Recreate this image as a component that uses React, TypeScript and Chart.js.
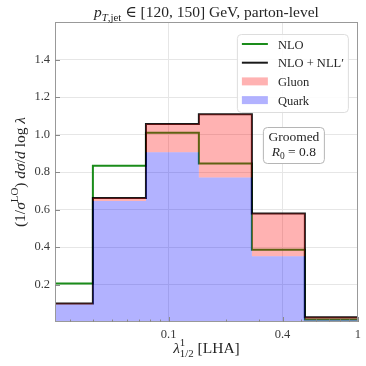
import React, { useEffect, useRef } from 'react';
import { Chart, registerables } from 'chart.js';

Chart.register(...registerables);

// ---- data ----
const binEdges = [0.0209, 0.0398, 0.0759, 0.1445, 0.2754, 0.5248, 1.0];
const nloValues = [0.205, 0.833, 1.01, 0.845, 0.386, 0.014];
const nllValues = [0.099, 0.661, 1.056, 1.108, 0.579, 0.025];
const quarkValues = [0.093, 0.645, 0.906, 0.771, 0.351, 0.012];
const gluonValues = [0.006, 0.016, 0.15, 0.337, 0.228, 0.013];
const xMajorTicks = [0.1, 0.4, 1];
const xMajorLabels = ['0.1', '0.4', '1'];
const xMinorTicks = [0.03, 0.04, 0.05, 0.06, 0.07, 0.08, 0.09, 0.2, 0.3, 0.5, 0.6, 0.7, 0.8, 0.9];
const yTicks = [0.2, 0.4, 0.6, 0.8, 1.0, 1.2, 1.4];
const xRange = [0.0251, 1];
const yRange = [0, 1.6];
const legendLabels = ['NLO', 'NLO + NLL′', 'Gluon', 'Quark'];
const annotationLines = ['Groomed', 'R', '0', ' = 0.8'];

// ---- styles ----
const GREEN = '#1a8c1a';
const BLACK = 'rgba(0,0,0,0.9)';
const PINK = 'rgba(255,0,0,0.3)';
const BLUE = 'rgba(0,0,255,0.3)';
const GRID = '#e6e6e6';
const FRAME = '#999999';
const TEXT = '#262626';
const TICKTEXT = '#3a3a3a';
const FAMILY = '"Liberation Serif", "DejaVu Serif", serif';

const stepPoints = (vals: number[]) => [
  ...vals.map((v, i) => ({ x: binEdges[i], y: v })),
  { x: binEdges[vals.length], y: vals[vals.length - 1] },
];

type Seg = { t?: string; it?: boolean; k?: number; dy?: number; sup?: string; sub?: string };
const font = (px: number, it?: boolean) => `${it ? 'italic ' : ''}${px}px ${FAMILY}`;

function segWidth(ctx: CanvasRenderingContext2D, s: Seg, base: number) {
  if (s.sup !== undefined || s.sub !== undefined) {
    ctx.font = font(base * 0.7);
    return Math.max(ctx.measureText(s.sup || '').width, ctx.measureText(s.sub || '').width);
  }
  ctx.font = font(base * (s.k || 1), s.it);
  return ctx.measureText(s.t || '').width;
}

function drawRich(ctx: CanvasRenderingContext2D, segs: Seg[], x: number, y: number, base: number, align = 'center') {
  const widths = segs.map((s) => segWidth(ctx, s, base));
  const total = widths.reduce((a, b) => a + b, 0);
  let cx = align === 'center' ? x - total / 2 : align === 'right' ? x - total : x;
  ctx.textAlign = 'left';
  ctx.textBaseline = 'alphabetic';
  segs.forEach((s, i) => {
    if (s.sup !== undefined || s.sub !== undefined) {
      ctx.font = font(base * 0.7);
      if (s.sup) ctx.fillText(s.sup, cx, y - base * 0.42);
      if (s.sub) ctx.fillText(s.sub, cx, y + base * 0.28);
    } else {
      ctx.font = font(base * (s.k || 1), s.it);
      ctx.fillText(s.t || '', cx, y + (s.dy || 0) * base);
    }
    cx += widths[i];
  });
}

function roundRect(ctx: CanvasRenderingContext2D, x: number, y: number, w: number, h: number, r: number) {
  ctx.beginPath();
  ctx.moveTo(x + r, y);
  ctx.lineTo(x + w - r, y);
  ctx.arcTo(x + w, y, x + w, y + r, r);
  ctx.lineTo(x + w, y + h - r);
  ctx.arcTo(x + w, y + h, x + w - r, y + h, r);
  ctx.lineTo(x + r, y + h);
  ctx.arcTo(x, y + h, x, y + h - r, r);
  ctx.lineTo(x, y + r);
  ctx.arcTo(x, y, x + r, y, r);
  ctx.closePath();
}

const decorPlugin = {
  id: 'decor',
  afterDatasetsDraw(chart: any) {
    const { ctx, chartArea: a, scales } = chart;
    ctx.save();
    // frame
    ctx.strokeStyle = FRAME;
    ctx.lineWidth = 1;
    ctx.strokeRect(Math.round(a.left) + 0.5, Math.round(a.top) + 0.5, Math.round(a.right - a.left) - 1, Math.round(a.bottom - a.top) - 1);
    // inward ticks
    ctx.strokeStyle = '#8a8a8a';
    ctx.beginPath();
    xMajorTicks.forEach((v) => {
      const px = Math.round(scales.x.getPixelForValue(v)) + 0.5;
      ctx.moveTo(px, a.bottom);
      ctx.lineTo(px, a.bottom - 5);
    });
    xMinorTicks.forEach((v) => {
      const px = Math.round(scales.x.getPixelForValue(v)) + 0.5;
      ctx.moveTo(px, a.bottom);
      ctx.lineTo(px, a.bottom - 2.5);
    });
    yTicks.forEach((v) => {
      const py = Math.round(scales.y.getPixelForValue(v)) + 0.5;
      ctx.moveTo(a.left, py);
      ctx.lineTo(a.left + 5, py);
    });
    ctx.stroke();
    ctx.restore();
  },
  afterDraw(chart: any) {
    const { ctx, chartArea: a } = chart;
    const cx = (a.left + a.right) / 2;
    ctx.save();
    ctx.fillStyle = TEXT;
    // title
    drawRich(ctx, [
      { t: 'p', it: true },
      { t: 'T', it: true, k: 0.7, dy: 0.25 },
      { t: ',jet', k: 0.7, dy: 0.25 },
      { t: ' ∈ [120, 150] GeV, parton-level' },
    ], cx, 17, 15.5);
    // x label
    drawRich(ctx, [
      { t: 'λ', it: true },
      { sup: '1', sub: '1/2' },
      { t: ' [LHA]' },
    ], cx, 353, 15.5);
    // y label
    ctx.save();
    ctx.translate(25, (a.top + a.bottom) / 2);
    ctx.rotate(-Math.PI / 2);
    drawRich(ctx, [
      { t: '(1/' },
      { t: 'σ', it: true },
      { sup: 'LO' },
      { t: ') ' },
      { t: 'd', it: true },
      { t: 'σ', it: true },
      { t: '/' },
      { t: 'd', it: true },
      { t: ' log ' },
      { t: 'λ', it: true },
    ], 0, 0, 15.5);
    ctx.restore();

    // legend
    const lx = a.right - 121;
    const ly = a.top + 12;
    roundRect(ctx, lx + 0.5, ly + 0.5, 111, 78, 4);
    ctx.fillStyle = 'rgba(255,255,255,0.85)';
    ctx.fill();
    ctx.strokeStyle = '#dddddd';
    ctx.lineWidth = 1;
    ctx.stroke();
    const styles = [
      { kind: 'line', color: GREEN },
      { kind: 'line', color: BLACK },
      { kind: 'rect', color: PINK },
      { kind: 'rect', color: BLUE },
    ];
    legendLabels.forEach((label, i) => {
      const ry = ly + 10 + i * 18.7;
      const st = styles[i];
      if (st.kind === 'line') {
        ctx.strokeStyle = st.color;
        ctx.lineWidth = 2;
        ctx.beginPath();
        ctx.moveTo(lx + 5, ry);
        ctx.lineTo(lx + 31, ry);
        ctx.stroke();
      } else {
        ctx.fillStyle = st.color;
        ctx.fillRect(lx + 5, ry - 4, 26, 8);
      }
      ctx.fillStyle = TEXT;
      ctx.font = font(12.5);
      ctx.textAlign = 'left';
      ctx.textBaseline = 'alphabetic';
      ctx.fillText(label, lx + 41, ry + 4.5);
    });

    // annotation box
    const bx = a.right - 95;
    const by = a.top + 105;
    roundRect(ctx, bx + 0.5, by + 0.5, 61, 36, 4);
    ctx.fillStyle = '#ffffff';
    ctx.fill();
    ctx.strokeStyle = '#b5b5b5';
    ctx.lineWidth = 1;
    ctx.stroke();
    ctx.fillStyle = TEXT;
    drawRich(ctx, [{ t: annotationLines[0] }], bx + 31, by + 14, 13.5);
    drawRich(ctx, [
      { t: annotationLines[1], it: true },
      { t: annotationLines[2], k: 0.7, dy: 0.22 },
      { t: annotationLines[3] },
    ], bx + 31, by + 29, 13.5);
    ctx.restore();
  },
};

export default function App() {
  const ref = useRef<HTMLCanvasElement | null>(null);
  useEffect(() => {
    if (!ref.current) return;
    const chart = new Chart(ref.current, {
      type: 'line',
      data: {
        datasets: [
          {
            label: 'Quark',
            data: stepPoints(quarkValues),
            yAxisID: 'yStack',
            stack: 'parton',
            stepped: 'before',
            borderWidth: 0,
            borderColor: 'transparent',
            backgroundColor: BLUE,
            fill: 'origin',
            order: 1,
          },
          {
            label: 'Gluon',
            data: stepPoints(gluonValues),
            yAxisID: 'yStack',
            stack: 'parton',
            stepped: 'before',
            borderWidth: 0,
            borderColor: 'transparent',
            backgroundColor: PINK,
            fill: '-1',
            order: 2,
          },
          {
            label: 'NLO + NLL′',
            data: stepPoints(nllValues),
            yAxisID: 'y',
            stepped: 'before',
            borderWidth: 2,
            borderColor: BLACK,
            fill: false,
            order: 3,
          },
          {
            label: 'NLO',
            data: stepPoints(nloValues),
            yAxisID: 'y',
            stepped: 'before',
            borderWidth: 2,
            borderColor: GREEN,
            fill: false,
            order: 4,
          },
        ],
      },
      options: {
        animation: false,
        responsive: false,
        events: [],
        layout: { padding: { left: 0, top: 22, right: 8, bottom: 0 } },
        elements: { point: { radius: 0 }, line: { tension: 0 } },
        plugins: {
          legend: { display: false },
          tooltip: { enabled: false },
          title: { display: false },
        },
        scales: {
          x: {
            type: 'logarithmic',
            min: xRange[0],
            max: xRange[1],
            afterBuildTicks: (s: any) => {
              s.ticks = [...xMajorTicks, ...xMinorTicks].sort((p, q) => p - q).map((v) => ({ value: v }));
            },
            afterFit: (s: any) => {
              s.height = 44;
            },
            border: { display: false },
            grid: {
              drawTicks: false,
              color: (c: any) => (c.tick && xMajorTicks.includes(c.tick.value) ? GRID : 'rgba(0,0,0,0)'),
              lineWidth: 1,
            },
            ticks: {
              autoSkip: false,
              maxRotation: 0,
              padding: 5,
              color: TICKTEXT,
              font: { family: FAMILY, size: 12.5 },
              callback: (v: any) => {
                const i = xMajorTicks.indexOf(Number(v));
                return i >= 0 ? xMajorLabels[i] : '';
              },
            },
          },
          y: {
            type: 'linear',
            position: 'left',
            min: yRange[0],
            max: yRange[1],
            afterBuildTicks: (s: any) => {
              s.ticks = yTicks.map((v) => ({ value: v }));
            },
            afterFit: (s: any) => {
              s.width = 55;
            },
            border: { display: false },
            grid: { drawTicks: false, color: GRID, lineWidth: 1 },
            ticks: {
              padding: 5,
              color: TICKTEXT,
              font: { family: FAMILY, size: 12.5 },
              callback: (v: any) => Number(v).toFixed(1),
            },
          },
          yStack: {
            type: 'linear',
            display: false,
            stacked: true,
            min: yRange[0],
            max: yRange[1],
          },
        },
      },
      plugins: [decorPlugin],
    } as any);
    return () => chart.destroy();
  }, []);
  return (
    <div style={{ position: 'absolute', left: 0, top: 0, width: 366, height: 366, background: '#fff' }}>
      <canvas ref={ref} width={366} height={366} style={{ display: 'block' }} />
    </div>
  );
}
